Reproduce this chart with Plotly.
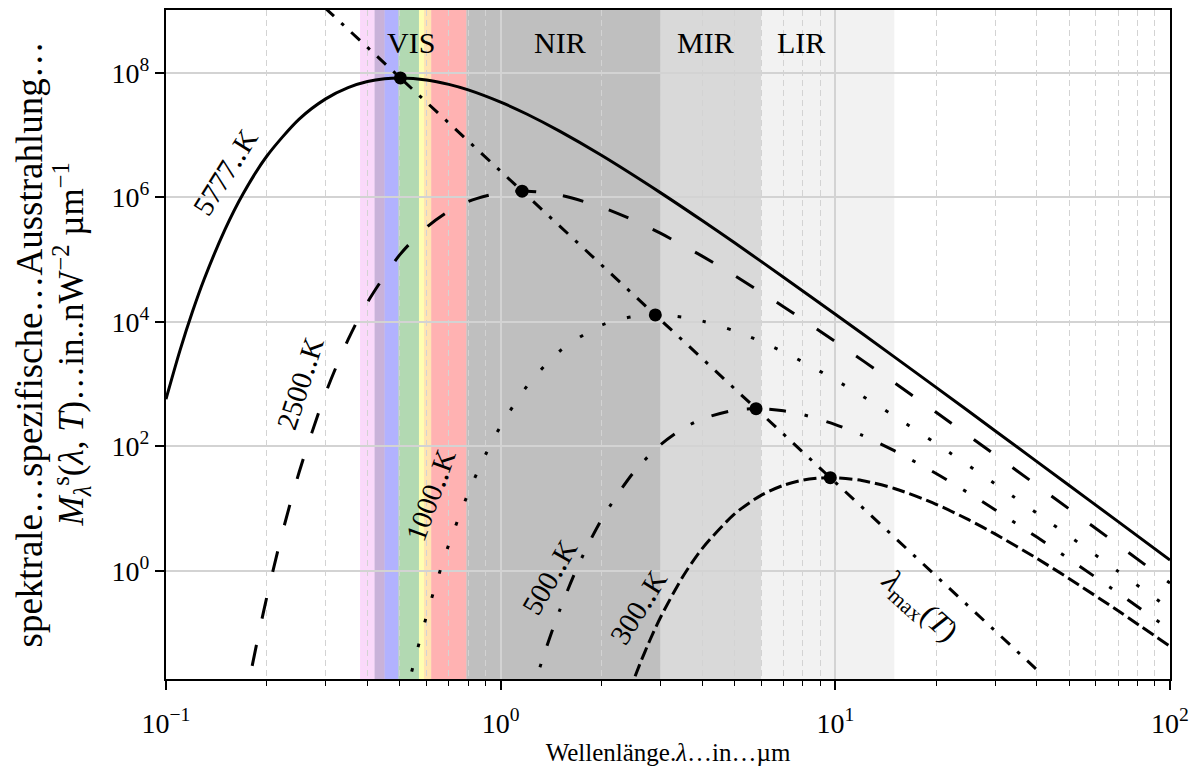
import math
import plotly.graph_objects as go

# ---------------- data ----------------
lam_5777 = [0.1, 0.11, 0.12, 0.13, 0.15, 0.17, 0.2, 0.25, 0.3, 0.35, 0.4, 0.45, 0.5, 0.6, 0.7, 0.8,
            1.0, 1.2, 1.5, 2, 3, 4, 5, 7, 10, 15, 20, 30, 50, 70, 100]
M_5777 = [571, 3.41e3, 1.458e4, 4.82e4, 3.03e5, 1.144e6, 4.57e6, 1.806e7, 3.82e7, 5.79e7, 7.24e7, 8.04e7,
          8.28e7, 7.70e7, 6.53e7, 5.32e7, 3.38e7, 2.16e7, 1.157e7, 4.73e6, 1.19e6, 4.23e5, 1.855e5,
          5.21e4, 1.323e4, 2.73e3, 882, 178, 23.4, 6.15, 1.48]

lam_2500 = [0.17, 0.18, 0.19, 0.2, 0.22, 0.25, 0.3, 0.35, 0.4, 0.5, 0.6, 0.7, 0.8, 1.0, 1.2, 1.5, 2,
            2.5, 3, 4, 5, 7, 10, 15, 20, 30, 50, 70, 100]
M_2500 = [5.23e-3, 0.0258, 0.1058, 0.372, 3.16, 38.5, 718, 5.15e3, 2.06e4, 1.20e5, 3.285e5, 5.98e5,
          8.58e5, 1.189e6, 1.253e6, 1.086e6, 6.97e5, 4.26e5, 2.651e5, 1.136e5, 5.54e4, 1.745e4,
          4.81e3, 1.053e3, 351, 72.8, 9.81, 2.60, 0.632]

lam_1000 = [0.5, 0.52, 0.55, 0.6, 0.65, 0.7, 0.8, 0.9, 1.0, 1.2, 1.5, 2, 2.5, 3, 3.5, 4, 5, 6, 7, 8,
            10, 12, 15, 20, 30, 50, 70, 100]
M_1000 = [3.81e-3, 9.48e-3, 0.0324, 0.1854, 0.786, 2.637, 17.66, 72.3, 211, 933, 3.365e3, 8.79e3,
          1.217e4, 1.283e4, 1.188e4, 1.030e4, 7.14e3, 4.81e3, 3.268e3, 2.266e3, 1.164e3, 649, 306,
          111, 25.0, 3.59, 0.976, 0.2418]

lam_500 = [1.0, 1.1, 1.2, 1.3, 1.4, 1.5, 1.7, 2.0, 2.5, 3, 3.5, 4, 5, 6, 7, 8, 10, 12, 15, 20, 25,
           30, 40, 50, 70, 100]
M_500 = [1.19e-4, 1.012e-3, 5.79e-3, 0.0246, 0.0824, 0.230, 1.174, 6.60, 38.4, 105.1, 191.5, 274.7,
         380.4, 400.9, 371.1, 321.9, 223.1, 150.4, 84.8, 36.4, 17.73, 9.57, 3.47, 1.539, 0.438, 0.1122]

lam_300 = [2.0, 2.2, 2.4, 2.6, 2.8, 3.0, 3.5, 4, 5, 6, 7, 8, 9, 10, 12, 15, 20, 25, 30, 40, 50, 70, 100]
M_300 = [4.51e-4, 2.475e-3, 9.85e-3, 0.0307, 0.0792, 0.1757, 0.798, 2.268, 8.17, 16.26, 23.59, 28.52,
         30.88, 31.17, 28.15, 20.99, 11.69, 6.60, 3.90, 1.577, 0.744, 0.2263, 0.0608]

# peaks (Wien) and the lambda_max(T) line
lam_peak = [0.5016, 1.1591, 2.8978, 5.7955, 9.6592]
M_peak = [8.28e7, 1.257e6, 1.287e4, 402, 31.3]
lam_wien = [0.25, 40]
M_wien = [2.69e9, 0.0257]

curve_labels = ["5777‥K", "2500‥K", "1000‥K", "500‥K", "300‥K"]

# spectral bands: (start, end, colour)
band_start = [0.38, 0.42, 0.45, 0.495, 0.57, 0.59, 0.62, 0.79, 3.0, 6.0]
band_end = [0.42, 0.45, 0.495, 0.57, 0.59, 0.62, 0.79, 3.0, 6.0, 15.0]
band_color = ["rgba(238,130,238,0.3)", "rgba(75,0,130,0.3)", "rgba(0,0,255,0.3)",
              "rgba(0,128,0,0.3)", "rgba(255,255,0,0.3)", "rgba(255,165,0,0.3)",
              "rgba(255,0,0,0.3)", "rgba(128,128,128,0.5)", "rgba(128,128,128,0.3)",
              "rgba(128,128,128,0.1)"]
region_names = ["VIS", "NIR", "MIR", "LIR"]
region_pos = [0.54, 1.5, 4.1, 7.9]

x_major = [0.1, 1, 10, 100]
x_major_text = ["10<sup>−1</sup>", "10<sup>0</sup>", "10<sup>1</sup>", "10<sup>2</sup>"]
x_minor = [m * d for d in (0.1, 1, 10) for m in range(2, 10)]
y_major = [1, 1e2, 1e4, 1e6, 1e8]
y_major_text = ["10<sup>0</sup>", "10<sup>2</sup>", "10<sup>4</sup>", "10<sup>6</sup>", "10<sup>8</sup>"]

FONT = "Liberation Serif"

fig = go.Figure()

styles = [
    (lam_5777, M_5777, "solid"),
    (lam_2500, M_2500, "21px,27px"),
    (lam_1000, M_1000, "3.5px,22px"),
    (lam_500, M_500, "17px,19px,3.5px,19px"),
    (lam_300, M_300, "13px,5px"),
]
for lx, ly, dash in styles:
    fig.add_trace(go.Scatter(x=lx, y=ly, mode="lines",
                             line=dict(color="black", width=3, dash=dash, shape="spline", smoothing=0.8),
                             hoverinfo="skip"))

fig.add_trace(go.Scatter(x=lam_wien, y=M_wien, mode="lines",
                         line=dict(color="black", width=3, dash="12px,10px,3.5px,10px"), hoverinfo="skip"))
fig.add_trace(go.Scatter(x=lam_peak, y=M_peak, mode="markers",
                         marker=dict(color="black", size=13), hoverinfo="skip"))

for x0, x1, c in zip(band_start, band_end, band_color):
    fig.add_shape(type="rect", xref="x", yref="paper", x0=x0, x1=x1, y0=0, y1=1,
                  fillcolor=c, line=dict(width=0), layer="below")

for name, xp in zip(region_names, region_pos):
    fig.add_annotation(text=name, x=math.log10(xp), y=0.952, xref="x", yref="paper",
                       xanchor="center", yanchor="middle",
                       showarrow=False, font=dict(family=FONT, size=30, color="black"))

# rotated labels along the curves (log10 coordinates)
label_pos = [(-0.822, 6.40, -58), (-0.598, 3.01, -72), (-0.209, 1.215, -70),
             (0.146, -0.10, -60), (0.412, -0.583, -58)]
for txt, (lx, ly, ang) in zip(curve_labels, label_pos):
    fig.add_annotation(text=txt, x=lx, y=ly, xref="x", yref="y", showarrow=False,
                       xanchor="center", yanchor="middle",
                       textangle=ang, font=dict(family=FONT, size=29, color="black"))
fig.add_annotation(text="<i>λ</i><sub>max</sub>(<i>T</i>)", x=1.249, y=-0.583, xref="x", yref="y",
                   xanchor="center", yanchor="middle",
                   showarrow=False, textangle=42, font=dict(family=FONT, size=31, color="black"))

# y-axis title (two lines)
fig.add_annotation(text="spektrale…spezifische…Ausstrahlung…", xref="paper", yref="paper",
                   x=0, y=0.5, xshift=-137, xanchor="center", yanchor="middle",
                   showarrow=False, textangle=-90,
                   font=dict(family=FONT, size=37, color="black"))
fig.add_annotation(text="<i>M</i><sub><i>λ</i></sub><sup>s</sup>(<i>λ</i>, <i>T</i>)…in..nW<sup>−2</sup> µm<sup>−1</sup>",
                   xref="paper", yref="paper", x=0, y=0.5, xshift=-95, xanchor="center", yanchor="middle",
                   showarrow=False, textangle=-90,
                   font=dict(family=FONT, size=35, color="black"))

axis_common = dict(type="log", showline=True, linecolor="black", linewidth=2, mirror=True,
                   ticks="outside", tickcolor="black", tickwidth=1.5, ticklen=9,
                   showgrid=True, gridcolor="#d3d3d3", zeroline=False,
                   tickfont=dict(family=FONT, size=28, color="black"))

fig.update_xaxes(**axis_common, range=[-1, 2], tickvals=x_major, ticktext=x_major_text, gridwidth=1.5,
                 ticklabelstandoff=9,
                 minor=dict(tickvals=x_minor, ticks="outside", ticklen=5, tickwidth=1, tickcolor="black",
                            showgrid=True, gridcolor="#d3d3d3", griddash="6px,4px", gridwidth=1.2),
                 title=dict(text="Wellenlänge.<i>λ</i>…in…µm", standoff=6,
                            font=dict(family=FONT, size=25, color="black")))
fig.update_yaxes(**axis_common, range=[-1.74, 9.01], tickvals=y_major, ticktext=y_major_text,
                 gridwidth=2)

fig.update_layout(width=1196, height=778, margin=dict(l=166, r=26, t=10, b=99, autoexpand=False),
                  plot_bgcolor="white", paper_bgcolor="white", showlegend=False,
                  font=dict(family=FONT, size=23, color="black"))

fig.write_html("out.html")
